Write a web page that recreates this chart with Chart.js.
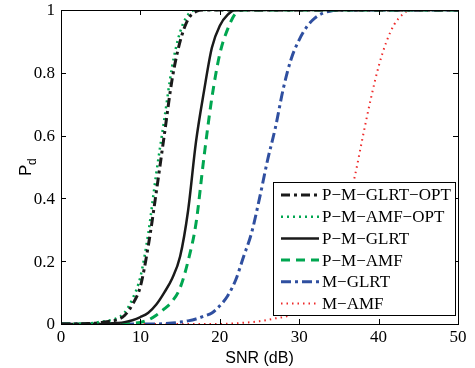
<!DOCTYPE html>
<html>
<head>
<meta charset="utf-8">
<script src="https://cdn.jsdelivr.net/npm/chart.js@4.4.1/dist/chart.umd.min.js"></script>
<style>
  html, body { margin: 0; padding: 0; background: #fff; }
  #wrap { width: 475px; height: 368px; }
</style>
</head>
<body>
<div id="wrap"><canvas id="c" width="475" height="368"></canvas></div>
<script>
// ---- data ----
const snr = [];
for (let i = 0; i <= 50; i++) snr.push(i);

const labels = ['P−M−GLRT−OPT', 'P−M−AMF−OPT', 'P−M−GLRT', 'P−M−AMF', 'M−GLRT', 'M−AMF'];

const pGlrtOpt = [0, 0, 0, 0.001, 0.002, 0.005, 0.008, 0.013, 0.027, 0.062, 0.12, 0.25, 0.42, 0.6, 0.78, 0.9, 0.97, 0.995, 1, 1,
  1, 1, 1, 1, 1, 1, 1, 1, 1, 1, 1, 1, 1, 1, 1, 1, 1, 1, 1, 1, 1, 1, 1, 1, 1, 1, 1, 1, 1, 1, 1];
const pAmfOpt = [0, 0, 0, 0.001, 0.003, 0.007, 0.011, 0.018, 0.036, 0.08, 0.15, 0.29, 0.48, 0.65, 0.82, 0.93, 0.985, 1, 1, 1,
  1, 1, 1, 1, 1, 1, 1, 1, 1, 1, 1, 1, 1, 1, 1, 1, 1, 1, 1, 1, 1, 1, 1, 1, 1, 1, 1, 1, 1, 1, 1];
const pGlrt = [0, 0, 0, 0, 0, 0, 0.001, 0.003, 0.006, 0.012, 0.022, 0.036, 0.062, 0.1, 0.145, 0.215, 0.36, 0.58, 0.74, 0.88,
  0.95, 0.985, 1, 1, 1, 1, 1, 1, 1, 1, 1, 1, 1, 1, 1, 1, 1, 1, 1, 1, 1, 1, 1, 1, 1, 1, 1, 1, 1, 1, 1];
const pAmf = [0, 0, 0, 0, 0, 0, 0, 0, 0, 0.002, 0.005, 0.013, 0.028, 0.048, 0.072, 0.115, 0.2, 0.32, 0.53, 0.72,
  0.86, 0.94, 0.99, 1, 1, 1, 1, 1, 1, 1, 1, 1, 1, 1, 1, 1, 1, 1, 1, 1, 1, 1, 1, 1, 1, 1, 1, 1, 1, 1, 1];
const pMGlrt = [0, 0, 0, 0, 0, 0, 0, 0, 0, 0, 0, 0, 0, 0.001, 0.003, 0.006, 0.01, 0.016, 0.025, 0.035,
  0.058, 0.09, 0.14, 0.215, 0.29, 0.4, 0.52, 0.625, 0.75, 0.845, 0.905, 0.948, 0.975, 0.99, 0.997, 1, 1, 1, 1, 1,
  1, 1, 1, 1, 1, 1, 1, 1, 1, 1, 1];
const pMAmf = [0, 0, 0, 0, 0, 0, 0, 0, 0, 0, 0, 0, 0, 0, 0, 0, 0, 0, 0, 0,
  0, 0.001, 0.002, 0.004, 0.006, 0.009, 0.013, 0.018, 0.022, 0.03, 0.045, 0.07, 0.1, 0.15, 0.21, 0.28, 0.37, 0.47, 0.595, 0.715,
  0.82, 0.9, 0.955, 0.985, 1, 1, 1, 1, 1, 1, 1];

const xTicks = [0, 10, 20, 30, 40, 50];
const yTicks = [0, 0.2, 0.4, 0.6, 0.8, 1];
const xTickLabels = ['0', '10', '20', '30', '40', '50'];
const yTickLabels = ['0', '0.2', '0.4', '0.6', '0.8', '1'];

// ---- styles ----
const BLACK = '#1a1a1a';
const GREEN = '#00a650';
const BLUE = '#2f4fa0';
const RED = '#ee2a2a';

const styles = [
  { color: BLACK, width: 3, dash: [9, 4, 3, 4] },
  { color: GREEN, width: 2.5, dash: [2, 4] },
  { color: BLACK, width: 2.5, dash: [] },
  { color: GREEN, width: 3, dash: [9, 6] },
  { color: BLUE, width: 3, dash: [10, 4, 3, 4] },
  { color: RED, width: 2, dash: [1.5, 4] },
];
const series = [pGlrtOpt, pAmfOpt, pGlrt, pAmf, pMGlrt, pMAmf];

const datasets = series.map((vals, i) => ({
  label: labels[i],
  data: snr.map((x, k) => ({ x, y: vals[k] })),
  borderColor: styles[i].color,
  borderWidth: styles[i].width,
  borderDash: styles[i].dash,
  pointRadius: 0,
  fill: false,
  cubicInterpolationMode: 'monotone',
}));

const SERIF = "'Liberation Serif', 'Times New Roman', serif";
const SANS = "'Liberation Sans', Arial, sans-serif";

// frame, inward ticks, tick labels, legend and y label
const matlabPlugin = {
  id: 'matlab',
  afterDatasetsDraw(chart) {
    const { ctx, chartArea: a, scales } = chart;
    ctx.save();
    ctx.strokeStyle = '#000';
    ctx.lineWidth = 1;
    ctx.setLineDash([]);
    ctx.strokeRect(a.left + 0.5, a.top + 0.5, a.right - a.left, a.bottom - a.top);
    const tl = 5;
    ctx.beginPath();
    xTicks.forEach(v => {
      const px = Math.round(scales.x.getPixelForValue(v)) + 0.5;
      ctx.moveTo(px, a.bottom); ctx.lineTo(px, a.bottom - tl);
      ctx.moveTo(px, a.top); ctx.lineTo(px, a.top + tl);
    });
    yTicks.forEach(v => {
      const py = Math.round(scales.y.getPixelForValue(v)) + 0.5;
      ctx.moveTo(a.left, py); ctx.lineTo(a.left + tl, py);
      ctx.moveTo(a.right, py); ctx.lineTo(a.right - tl, py);
    });
    ctx.stroke();

    // tick labels
    ctx.fillStyle = '#000';
    ctx.font = '17px ' + SERIF;
    ctx.textBaseline = 'middle';
    ctx.textAlign = 'center';
    xTicks.forEach((v, i) => ctx.fillText(xTickLabels[i], scales.x.getPixelForValue(v), a.bottom + 14));
    ctx.textAlign = 'right';
    yTicks.forEach((v, i) => ctx.fillText(yTickLabels[i], a.left - 6, scales.y.getPixelForValue(v) + 1));

    // legend box
    const bx = 273, by = 182, bw = 182, bh = 133;
    ctx.fillStyle = '#fff';
    ctx.fillRect(bx, by, bw, bh);
    ctx.strokeRect(bx + 0.5, by + 0.5, bw, bh);
    ctx.font = '17px ' + SERIF;
    ctx.textAlign = 'left';
    chart.data.datasets.forEach((ds, i) => {
      const y = by + 13 + i * 21.7;
      ctx.beginPath();
      ctx.strokeStyle = ds.borderColor;
      ctx.lineWidth = ds.borderWidth;
      ctx.setLineDash(ds.borderDash);
      ctx.moveTo(281, y);
      ctx.lineTo(319, y);
      ctx.stroke();
      ctx.setLineDash([]);
      ctx.fillStyle = '#000';
      ctx.fillText(ds.label, 322, y + 1);
    });

    // y label P_d
    ctx.save();
    ctx.translate(31, (a.top + a.bottom) / 2);
    ctx.rotate(-Math.PI / 2);
    ctx.fillStyle = '#000';
    ctx.textAlign = 'left';
    ctx.textBaseline = 'alphabetic';
    ctx.font = '17px ' + SANS;
    ctx.fillText('P', -9, 0);
    ctx.font = '12px ' + SANS;
    ctx.fillText('d', 2, 5);
    ctx.restore();
    ctx.restore();
  }
};

new Chart(document.getElementById('c'), {
  type: 'line',
  data: { datasets },
  options: {
    responsive: false,
    animation: false,
    layout: { padding: { top: 10, right: 17, left: 0, bottom: 0 } },
    plugins: { legend: { display: false }, tooltip: { enabled: false } },
    scales: {
      x: {
        type: 'linear', min: 0, max: 50,
        afterBuildTicks: s => { s.ticks = xTicks.map(v => ({ value: v })); },
        afterFit: s => { s.height = 44; },
        grid: { display: false, drawTicks: false },
        border: { display: false },
        ticks: { display: false },
        title: { display: true, text: 'SNR (dB)', color: '#000', font: { family: SANS, size: 16 }, padding: { top: 0, bottom: 0 } },
      },
      y: {
        type: 'linear', min: 0, max: 1,
        afterBuildTicks: s => { s.ticks = yTicks.map(v => ({ value: v })); },
        afterFit: s => { s.width = 61; },
        grid: { display: false, drawTicks: false },
        border: { display: false },
        ticks: { display: false },
      },
    },
  },
  plugins: [matlabPlugin],
});
</script>
</body>
</html>
